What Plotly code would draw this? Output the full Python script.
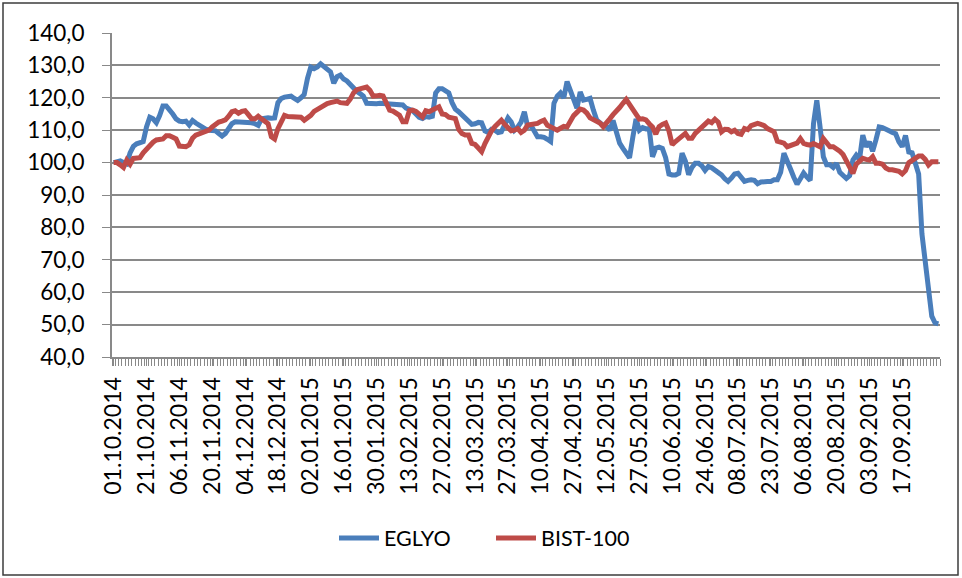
import plotly.graph_objects as go

tick_labels = ["01.10.2014", "21.10.2014", "06.11.2014", "20.11.2014", "04.12.2014",
               "18.12.2014", "02.01.2015", "16.01.2015", "30.01.2015", "13.02.2015",
               "27.02.2015", "13.03.2015", "27.03.2015", "10.04.2015", "27.04.2015",
               "12.05.2015", "27.05.2015", "10.06.2015", "24.06.2015", "08.07.2015",
               "23.07.2015", "06.08.2015", "20.08.2015", "03.09.2015", "17.09.2015"]

eglyo = [
    100.0, 100.3, 100.5, 100.0, 99.6, 103.0, 105.0, 105.8, 106.0, 106.5,
    111.0, 114.0, 113.5, 112.3, 114.5, 117.5, 117.5, 116.5, 115.0, 113.5,
    112.8, 112.6, 112.8, 111.6, 113.0, 112.2, 111.5, 110.8, 110.3, 110.0,
    110.0, 109.8, 109.0, 108.2, 109.0, 110.5, 112.0, 112.6, 112.6, 112.5,
    112.5, 112.4, 112.3, 112.0, 111.5, 113.5, 113.8, 113.8, 113.7, 113.8,
    118.5, 119.8, 120.2, 120.2, 120.5, 119.8, 119.2, 120.0, 121.0, 126.0,
    129.5, 129.0, 129.5, 130.5, 129.5, 129.0, 128.0, 124.5, 126.5, 127.0,
    125.8, 125.2, 124.0, 123.0, 122.0, 121.3, 120.5, 118.3, 118.2, 118.2,
    118.2, 118.3, 118.2, 118.2, 118.2, 118.2, 118.1, 118.0, 117.8, 116.8,
    116.3, 116.0, 115.0, 114.0, 113.6, 114.2, 114.0, 114.3, 121.5, 122.8,
    122.8, 122.2, 121.5, 118.5, 116.5, 115.7, 114.8, 113.8, 113.1, 111.8,
    112.0, 112.4, 112.3, 109.8, 109.3, 110.3, 110.0, 109.3, 109.5, 111.5,
    113.8, 112.5, 110.0, 111.0, 112.5, 115.7, 111.1, 111.5, 109.3, 108.0,
    108.0, 107.8, 107.2, 106.5, 118.3, 120.5, 121.5, 120.0, 125.0, 122.0,
    119.5, 116.8, 121.8, 119.3, 119.5, 119.8, 116.2, 113.2, 112.3, 111.5,
    111.2, 110.0, 113.0, 109.5, 106.0, 104.4, 102.6, 101.5, 107.8, 113.5,
    110.0, 110.8, 110.4, 110.5, 101.8, 104.5, 104.8, 104.4, 101.5, 96.5,
    96.2, 96.2, 96.7, 102.9, 100.5, 96.3, 98.5, 99.8, 99.8, 99.0,
    97.6, 98.8, 98.4, 97.8, 97.0, 96.2, 95.0, 94.2, 95.2, 96.5,
    96.7, 95.5, 94.2, 94.5, 94.7, 94.5, 93.5, 94.0, 94.2, 94.2,
    94.2, 94.7, 94.7, 97.0, 102.9, 100.8, 98.0, 95.5, 93.3, 95.0,
    96.8, 95.5, 94.5, 112.0, 119.2, 111.0, 101.8, 99.3, 99.3, 98.5,
    99.8, 97.0, 96.2, 95.1, 96.0, 100.8, 102.3, 101.0, 108.5, 104.9,
    106.4, 103.5, 107.0, 111.0, 110.8, 110.5, 109.8, 109.3, 108.9, 106.4,
    104.9, 108.4, 103.3, 103.0, 99.5, 96.5, 78.0, 69.9, 59.7, 52.6,
    50.5, 50.2]

bist100 = [
    100.0, 100.0, 99.3, 98.5, 100.8, 99.5, 101.3, 101.3, 101.5, 103.0,
    104.2, 105.3, 106.3, 107.0, 107.0, 107.3, 108.3, 108.3, 107.8, 107.3,
    105.1, 105.0, 104.9, 105.5, 107.5, 108.5, 108.8, 109.0, 109.5, 110.0,
    111.0, 112.0, 112.5, 112.8, 113.2, 114.3, 115.7, 116.0, 115.2, 115.8,
    116.0, 114.8, 113.5, 113.5, 114.3, 113.5, 112.8, 112.0, 108.0, 107.3,
    110.5, 112.5, 114.6, 114.2, 114.1, 114.1, 114.1, 114.0, 113.1, 113.8,
    114.6, 115.8, 116.5, 117.2, 117.6, 118.2, 118.5, 118.7, 119.0, 118.5,
    118.2, 118.3, 119.6, 121.5, 122.5, 122.8, 123.0, 123.3, 122.3, 120.5,
    120.6, 120.8, 120.6, 118.2, 116.2, 115.9, 115.4, 114.6, 112.6, 112.6,
    116.0, 116.2, 115.8, 115.1, 114.1, 116.0, 115.7, 116.2, 116.7, 117.2,
    115.0, 114.8, 114.0, 113.6, 113.6, 110.3, 109.0, 108.5, 108.5, 105.9,
    105.6, 104.5, 103.4, 105.9, 108.0, 109.8, 111.1, 112.2, 113.1, 111.8,
    110.6, 109.8, 110.0, 110.5, 109.3, 110.0, 111.6, 111.8, 111.8, 112.1,
    112.7, 113.1, 111.5, 111.0, 110.8, 110.0, 110.6, 111.2, 111.0, 113.2,
    114.5, 115.5, 116.5, 116.2, 115.3, 113.8, 113.4, 112.8, 112.2, 111.1,
    112.6, 113.5, 114.8, 115.7, 117.0, 118.3, 119.5, 118.0, 116.5, 114.8,
    113.4, 113.5, 113.2, 112.0, 111.0, 108.8, 111.1, 111.8, 112.2, 109.8,
    105.5, 106.5, 107.5, 108.5, 109.0, 107.5, 107.5, 109.0, 110.0, 111.1,
    112.1, 112.8, 112.3, 113.4, 112.5, 109.5, 110.3, 110.2, 109.5, 110.0,
    109.0, 108.7, 110.5, 110.2, 111.4, 111.8, 112.1, 111.8, 111.4, 110.5,
    109.8, 109.5, 106.6, 106.2, 106.0, 104.9, 105.4, 105.7, 106.0, 107.4,
    105.9, 105.6, 105.4, 105.9, 105.5, 104.9, 107.4, 106.0, 104.9, 104.9,
    104.4, 103.5, 102.5, 100.8, 99.0, 96.7, 99.5, 100.5, 101.3, 101.0,
    100.8, 101.8, 99.8, 99.8, 99.5, 98.3, 97.8, 97.8, 97.6, 97.3,
    96.5, 97.5, 100.0, 100.8, 101.3, 102.0, 102.0, 101.0, 99.3, 100.3,
    100.3, 100.3]

n = len(eglyo)
x = list(range(n))
tick_pos = list(range(0, 10 * len(tick_labels), 10))

FONT = "Lato"
GRID = "#898989"

fig = go.Figure()
fig.add_trace(go.Scatter(x=x, y=eglyo, mode="lines", name="EGLYO",
                         line=dict(color="#4a7ebb", width=5)))
fig.add_trace(go.Scatter(x=x, y=bist100, mode="lines", name="BIST-100",
                         line=dict(color="#be4b48", width=5)))

L, R, T, B = 112, 940, 33, 357
W, H = 962, 578
pw, ph = R - L, B - T

fig.update_layout(
    width=W, height=H,
    margin=dict(l=L, r=W - R, t=T, b=H - B),
    paper_bgcolor="white", plot_bgcolor="white",
    separators=",.",
    font=dict(family=FONT, size=21, color="black"),
    showlegend=True,
    legend=dict(orientation="h", x=(491 - L) / pw, xanchor="center",
                y=(B - 538) / ph, yanchor="middle",
                font=dict(family=FONT, size=21.5, color="black"),
                itemwidth=40, entrywidth=102, entrywidthmode="pixels"),
    xaxis=dict(range=[-0.5, n - 0.5], tickmode="array", tickvals=tick_pos,
               ticktext=tick_labels, tickangle=-90, showgrid=False,
               showline=True, linecolor=GRID, linewidth=2,
               ticks="outside", ticklen=7, tickcolor=GRID, tickwidth=1,
               minor=dict(dtick=1, tick0=-0.5, ticks="outside", ticklen=7,
                          tickcolor=GRID, tickwidth=1, showgrid=False),
               ticklabelstandoff=2,
               tickfont=dict(family=FONT, size=23), zeroline=False),
    yaxis=dict(range=[40, 140], dtick=10, tick0=40, tickformat=".1f",
               showgrid=True, gridcolor=GRID, gridwidth=2,
               showline=True, linecolor=GRID, linewidth=2,
               ticks="outside", ticklen=8, tickcolor=GRID,
               ticklabelstandoff=13, zeroline=False,
               tickfont=dict(family=FONT, size=22.5)),
)

fig.add_shape(type="rect", xref="paper", yref="paper",
              x0=(3 - L) / pw, x1=(958 - L) / pw,
              y0=(B - 575) / ph, y1=(B - 3) / ph,
              line=dict(color="#3c3c3c", width=1.5), fillcolor="rgba(0,0,0,0)",
              layer="below")

fig.write_html("out.html", config={"displayModeBar": False},
               post_script="document.body.style.margin='0';")
